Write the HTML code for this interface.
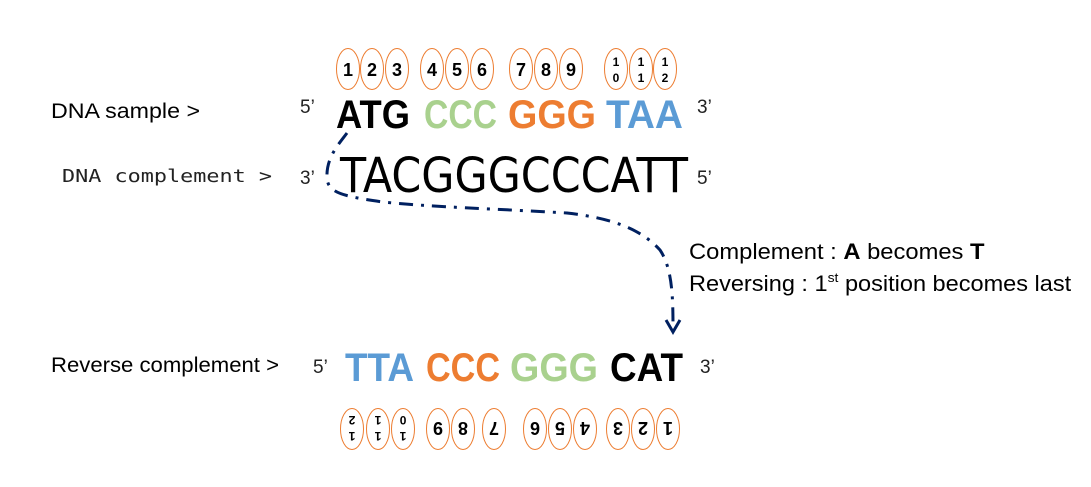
<!DOCTYPE html>
<html><head><meta charset="utf-8"><style>
html,body{margin:0;padding:0;background:#fff;}
svg{display:block;}
.s{font-family:"Liberation Sans",sans-serif;}
.b{font-family:"Liberation Sans",sans-serif;font-weight:bold;}
.m{font-family:"DejaVu Sans Mono","Liberation Mono",monospace;}
</style></head><body>
<svg width="1091" height="487" viewBox="0 0 1091 487" xmlns="http://www.w3.org/2000/svg">
<defs>
<g id="ov"><ellipse cx="0" cy="0" rx="11.5" ry="20.5" fill="#fff" stroke="#ED7D31" stroke-width="1"/></g>
</defs>
<!-- top ovals -->
<g class="b" font-size="18" text-anchor="middle">
<use href="#ov" x="348" y="69"/><text x="348" y="76">1</text>
<use href="#ov" x="372" y="69"/><text x="372" y="76">2</text>
<use href="#ov" x="397" y="69"/><text x="397" y="76">3</text>
<use href="#ov" x="432" y="69"/><text x="432" y="76">4</text>
<use href="#ov" x="457" y="69"/><text x="457" y="76">5</text>
<use href="#ov" x="482" y="69"/><text x="482" y="76">6</text>
<use href="#ov" x="521" y="69"/><text x="521" y="76">7</text>
<use href="#ov" x="546" y="69"/><text x="546" y="76">8</text>
<use href="#ov" x="571" y="69"/><text x="571" y="76">9</text>
</g>
<g class="b" font-size="12" text-anchor="middle">
<use href="#ov" x="616" y="69"/><text x="616" y="66">1</text><text x="616" y="82">0</text>
<use href="#ov" x="641" y="69"/><text x="641" y="66">1</text><text x="641" y="82">1</text>
<use href="#ov" x="665" y="69"/><text x="665" y="66">1</text><text x="665" y="82">2</text>
</g>
<!-- bottom ovals, each rotated -->
<g class="b" font-size="18" text-anchor="middle">
<g transform="rotate(180 438 429)"><use href="#ov" x="438" y="429"/><text x="438" y="436">9</text></g>
<g transform="rotate(180 463 429)"><use href="#ov" x="463" y="429"/><text x="463" y="436">8</text></g>
<g transform="rotate(180 494 429)"><use href="#ov" x="494" y="429"/><text x="494" y="436">7</text></g>
<g transform="rotate(180 535 429)"><use href="#ov" x="535" y="429"/><text x="535" y="436">6</text></g>
<g transform="rotate(180 560 429)"><use href="#ov" x="560" y="429"/><text x="560" y="436">5</text></g>
<g transform="rotate(180 585 429)"><use href="#ov" x="585" y="429"/><text x="585" y="436">4</text></g>
<g transform="rotate(180 618 429)"><use href="#ov" x="618" y="429"/><text x="618" y="436">3</text></g>
<g transform="rotate(180 643 429)"><use href="#ov" x="643" y="429"/><text x="643" y="436">2</text></g>
<g transform="rotate(180 668 429)"><use href="#ov" x="668" y="429"/><text x="668" y="436">1</text></g>
</g>
<g class="b" font-size="12" text-anchor="middle">
<g transform="rotate(180 352 429)"><use href="#ov" x="352" y="429"/><text x="352" y="426">1</text><text x="352" y="442">2</text></g>
<g transform="rotate(180 378 429)"><use href="#ov" x="378" y="429"/><text x="378" y="426">1</text><text x="378" y="442">1</text></g>
<g transform="rotate(180 403 429)"><use href="#ov" x="403" y="429"/><text x="403" y="426">1</text><text x="403" y="442">0</text></g>
</g>
<!-- labels -->
<text class="s" x="51" y="118" font-size="21" textLength="149" lengthAdjust="spacingAndGlyphs">DNA sample &gt;</text>
<text class="m" x="62" y="182" font-size="18" fill="#222" textLength="210" lengthAdjust="spacingAndGlyphs">DNA complement &gt;</text>
<text class="s" x="51" y="372" font-size="21" textLength="228" lengthAdjust="spacingAndGlyphs">Reverse complement &gt;</text>
<g class="s" font-size="19" fill="#222">
<text x="300" y="113">5’</text><text x="697" y="113">3’</text>
<text x="300" y="184">3’</text><text x="697" y="184">5’</text>
<text x="313" y="373">5’</text><text x="700" y="373">3’</text>
</g>
<!-- top sequence -->
<g class="b" font-size="40">
<text x="336" y="128" fill="#000" textLength="74" lengthAdjust="spacingAndGlyphs">ATG</text>
<text x="424" y="128" fill="#A9D18E" textLength="73" lengthAdjust="spacingAndGlyphs">CCC</text>
<text x="508" y="128" fill="#ED7D31" textLength="88" lengthAdjust="spacingAndGlyphs">GGG</text>
<text x="606" y="128" fill="#5B9BD5" textLength="77" lengthAdjust="spacingAndGlyphs">TAA</text>
</g>
<text x="340" y="192" font-family="DejaVu Sans,sans-serif" font-size="48" textLength="348" lengthAdjust="spacingAndGlyphs">TACGGGCCCATT</text>
<!-- bottom sequence -->
<g class="b" font-size="40">
<text x="345" y="381" fill="#5B9BD5" textLength="69" lengthAdjust="spacingAndGlyphs">TTA</text>
<text x="426" y="381" fill="#ED7D31" textLength="74" lengthAdjust="spacingAndGlyphs">CCC</text>
<text x="510" y="381" fill="#A9D18E" textLength="88" lengthAdjust="spacingAndGlyphs">GGG</text>
<text x="610" y="381" fill="#000" textLength="73" lengthAdjust="spacingAndGlyphs">CAT</text>
</g>
<!-- curve -->
<path d="M347,133 C338,145 326,158 327,178 C328,192 340,196 383,202 C430,207 500,209 567,213 C610,218 640,228 660,250 C672,268 673,295 673,328" fill="none" stroke="#002060" stroke-width="3" stroke-dasharray="14,8,3,8"/>
<polyline points="666,320 673,332 680,320" fill="none" stroke="#002060" stroke-width="3"/>
<!-- right notes -->
<g class="s" font-size="22">
<g transform="translate(689,259) scale(1.08,1)"><text x="0" y="0">Complement :  <tspan font-weight="bold">A</tspan> becomes <tspan font-weight="bold">T</tspan></text></g>
<g transform="translate(689,291) scale(1.07,1)"><text x="0" y="0">Reversing : 1<tspan font-size="13" dy="-9">st</tspan><tspan dy="9"> position becomes last</tspan></text></g>
</g>
</svg>
</body></html>
